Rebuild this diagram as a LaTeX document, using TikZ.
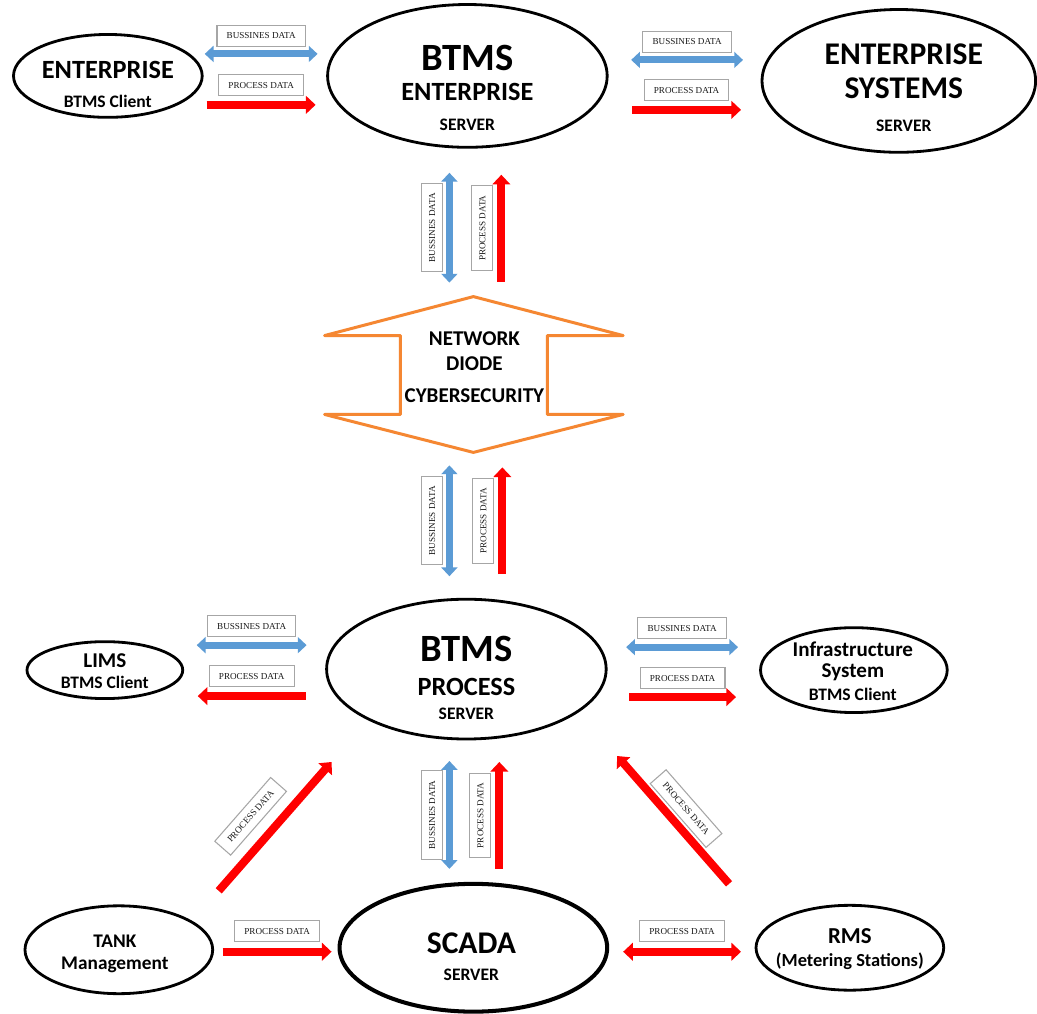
\documentclass[tikz,border=0pt]{standalone}
\usepackage{fontspec}
\setmainfont{Liberation Serif}
\newfontfamily\carlito{Carlito}
\usetikzlibrary{arrows.meta,shapes.geometric}

\definecolor{bizblue}{RGB}{91,155,213}
\definecolor{procred}{RGB}{255,0,0}
\definecolor{diodeorange}{RGB}{245,135,50}

\tikzset{
  sysell/.style={ellipse, draw, line width=1.6pt, inner sep=0pt},
  systxt/.style={align=center, inner sep=0pt, text=black},
  datalbl/.style={draw=gray!70, line width=0.6pt, fill=white, text=black!90, font=\fontsize{5.2}{6}\selectfont,
    inner xsep=5.5pt, inner ysep=0pt, minimum height=12pt},
  bizarrow/.style={draw=bizblue, line width=4pt,
    {Triangle[width=9pt,length=5pt]}-{Triangle[width=9pt,length=5pt]}},
  procarrow/.style={draw=procred, line width=4.6pt, -{Triangle[width=10pt,length=5.5pt]}},
  procboth/.style={draw=procred, line width=4.6pt,
    {Triangle[width=10pt,length=5.5pt]}-{Triangle[width=10pt,length=5.5pt]}},
}

\begin{document}
\begin{tikzpicture}[x=0.02cm, y=-0.02cm]
\fill[white] (0,0) rectangle (1037,1015);

% enterprise level
\node[sysell, minimum width=3.78cm, minimum height=1.66cm] (cli) at (108,76) {};
\node[systxt, font=\carlito\bfseries\fontsize{10}{16.5}\selectfont] (cliTxt) at (108,85)
  {{\fontsize{15}{16.5}\selectfont ENTERPRISE}\\BTMS Client};
\node[sysell, minimum width=5.6cm, minimum height=2.86cm] (btE) at (468,76) {};
\node[systxt, font=\carlito\bfseries\fontsize{10}{17}\selectfont] (btETxt) at (468,88)
  {{\fontsize{22}{17}\selectfont BTMS}\\{\fontsize{15}{17}\selectfont ENTERPRISE}\\SERVER};
\node[sysell, minimum width=5.48cm, minimum height=2.86cm] (entS) at (900,81) {};
\node[systxt, font=\carlito\bfseries\fontsize{10}{19}\selectfont] (entSTxt) at (905,88)
  {{\fontsize{18}{19}\selectfont ENTERPRISE}\\{\fontsize{18}{19}\selectfont SYSTEMS}\\SERVER};

% process level
\node[sysell, minimum width=3.12cm, minimum height=1.14cm] (lims) at (105,671) {};
\node[systxt, font=\carlito\bfseries\fontsize{10}{12}\selectfont] (limsTxt) at (105,672)
  {{\fontsize{12}{12}\selectfont LIMS}\\BTMS Client};
\node[sysell, minimum width=5.6cm, minimum height=2.8cm] (btP) at (467,670) {};
\node[systxt, font=\carlito\bfseries\fontsize{10}{14}\selectfont] (btPTxt) at (467,679)
  {{\fontsize{22}{14}\selectfont BTMS}\\[5pt]{\fontsize{15}{14}\selectfont PROCESS}\\SERVER};
\node[sysell, minimum width=3.74cm, minimum height=1.7cm] (infra) at (855,671) {};
\node[systxt, font=\carlito\bfseries\fontsize{10}{12}\selectfont] (infraTxt) at (854,672)
  {{\fontsize{12}{12}\selectfont Infrastructure}\\{\fontsize{12}{12}\selectfont System}\\[1pt]BTMS Client};

% field level
\node[sysell, minimum width=3.76cm, minimum height=1.76cm] (tank) at (119,951) {};
\node[systxt, font=\carlito\bfseries\fontsize{11}{12.5}\selectfont] (tankTxt) at (115,955)
  {TANK\\Management};
\node[sysell, line width=2.3pt, minimum width=5.36cm, minimum height=2.56cm] (scada) at (474,949) {};
\node[systxt, font=\carlito\bfseries\fontsize{10}{15.3}\selectfont] (scadaTxt) at (472,958)
  {{\fontsize{18}{15.3}\selectfont SCADA}\\SERVER};
\node[sysell, minimum width=3.76cm, minimum height=1.7cm] (rms) at (851,949) {};
\node[systxt, font=\carlito\bfseries\fontsize{10.5}{13}\selectfont] (rmsTxt) at (851,950)
  {{\fontsize{13}{13}\selectfont RMS}\\(Metering Stations)};

% network diode
\draw[diodeorange, line width=1.7pt, line join=round] (474,297) -- (624,336) -- (548,336) -- (548,415)
  -- (624,415) -- (474,453) -- (325,415) -- (401,415) -- (401,336) -- (325,336) -- cycle;
\node[systxt, font=\carlito\bfseries\fontsize{12}{14}\selectfont] (diode) at (475,368)
  {NETWORK\\DIODE\\[4.5pt]CYBERSECURITY};

% arrow ends
\coordinate (lBizA) at (205,54);  \coordinate (lBizB) at (318,54);
\coordinate (lProA) at (207,105); \coordinate (lProB) at (316,105);
\coordinate (rBizA) at (632,60);  \coordinate (rBizB) at (744,60);
\coordinate (rProA) at (633,110); \coordinate (rProB) at (742,110);
\coordinate (uBizA) at (450,283); \coordinate (uBizB) at (450,173);
\coordinate (uProA) at (502,282); \coordinate (uProB) at (502,175);
\coordinate (mBizA) at (450,577); \coordinate (mBizB) at (450,466);
\coordinate (mProA) at (503,575); \coordinate (mProB) at (503,468);
\coordinate (pBizA) at (197,646); \coordinate (pBizB) at (307,646);
\coordinate (pProA) at (306,697); \coordinate (pProB) at (198,697);
\coordinate (iBizA) at (627,648); \coordinate (iBizB) at (739,648);
\coordinate (iProA) at (630,698); \coordinate (iProB) at (737,698);
\coordinate (sBizA) at (450,870); \coordinate (sBizB) at (450,762);
\coordinate (sProA) at (500,870); \coordinate (sProB) at (500,763);
\coordinate (tDiaA) at (219,892); \coordinate (tDiaB) at (332,763);
\coordinate (rDiaA) at (730,885); \coordinate (rDiaB) at (618,757);
\coordinate (tProA) at (223,953); \coordinate (tProB) at (332,953);
\coordinate (rmsA) at (624,953);  \coordinate (rmsB) at (742,953);

\draw[bizarrow] (lBizA) -- node[datalbl, above=4pt] {BUSSINES DATA} (lBizB);
\draw[procarrow] (lProA) -- node[datalbl, above=5pt] {PROCESS DATA} (lProB);
\draw[bizarrow] (rBizA) -- node[datalbl, above=4pt] {BUSSINES DATA} (rBizB);
\draw[procarrow] (rProA) -- node[datalbl, above=5pt] {PROCESS DATA} (rProB);

\draw[bizarrow] (uBizA) -- node[datalbl, sloped, above=3.5pt] {BUSSINES DATA} (uBizB);
\draw[procarrow] (uProA) -- node[datalbl, sloped, above=4.5pt] {PROCESS DATA} (uProB);
\draw[bizarrow] (mBizA) -- node[datalbl, sloped, above=3.5pt] {BUSSINES DATA} (mBizB);
\draw[procarrow] (mProA) -- node[datalbl, sloped, above=4.5pt] {PROCESS DATA} (mProB);

\draw[bizarrow] (pBizA) -- node[datalbl, above=4.5pt] {BUSSINES DATA} (pBizB);
\draw[procarrow] (pProA) -- node[datalbl, above=5pt] {PROCESS DATA} (pProB);
\draw[bizarrow] (iBizA) -- node[datalbl, above=4.5pt] {BUSSINES DATA} (iBizB);
\draw[procarrow] (iProA) -- node[datalbl, above=4.5pt] {PROCESS DATA} (iProB);

\draw[bizarrow] (sBizA) -- node[datalbl, sloped, above=3.5pt] {BUSSINES DATA} (sBizB);
\draw[procarrow] (sProA) -- node[datalbl, sloped, above=4.5pt] {PROCESS DATA} (sProB);
\draw[procarrow] (tDiaA) -- node[datalbl, sloped, above=8pt, pos=0.45] {PROCESS DATA} (tDiaB);
\draw[procarrow] (rDiaA) -- node[datalbl, sloped, above=3.5pt] {PROCESS DATA} (rDiaB);

\draw[procarrow] (tProA) -- node[datalbl, above=5.5pt] {PROCESS DATA} (tProB);
\draw[procboth] (rmsA) -- node[datalbl, above=5.5pt] {PROCESS DATA} (rmsB);
\end{tikzpicture}
\end{document}
